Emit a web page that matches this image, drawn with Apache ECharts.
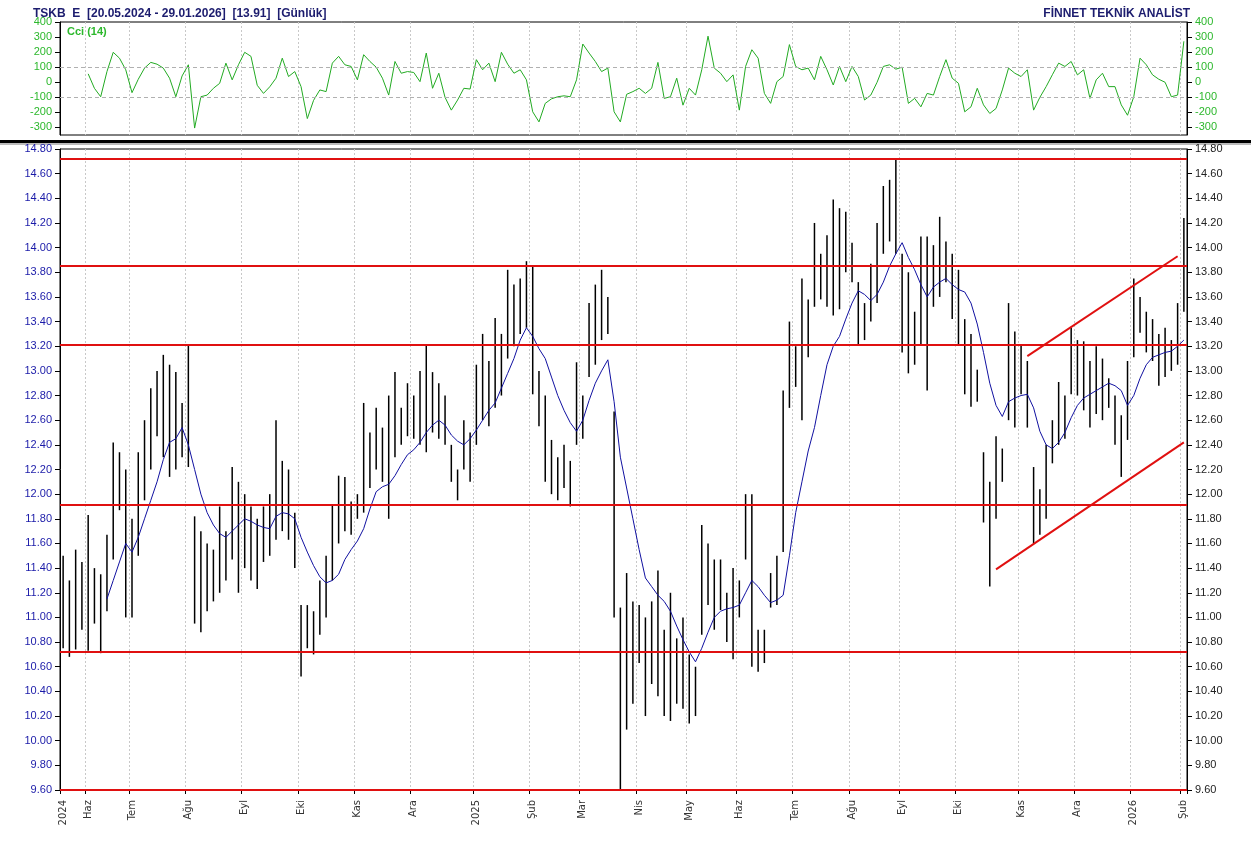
<!DOCTYPE html>
<html><head><meta charset="utf-8">
<script src="https://cdn.jsdelivr.net/npm/echarts@6/dist/echarts.min.js"></script>
<style>html,body{margin:0;padding:0;background:#fff}#c{width:1251px;height:841px}</style>
</head><body><div id="c"></div>
<script>
const highs = [11.50,11.30,11.55,11.45,11.83,11.40,11.35,11.67,12.42,12.34,
12.20,11.80,12.34,12.60,12.86,13.00,13.13,13.05,12.99,12.74,
13.21,11.82,11.70,11.60,11.55,11.90,11.70,12.22,12.10,12.00,
11.90,11.80,11.90,12.00,12.60,12.27,12.20,11.85,11.10,11.10,
11.05,11.30,11.50,11.92,12.15,12.14,11.94,12.00,12.74,12.50,
12.70,12.54,12.80,12.99,12.70,12.90,12.80,13.00,13.21,12.99,
12.90,12.80,12.40,12.20,12.60,12.50,13.05,13.30,13.08,13.43,
13.30,13.82,13.70,13.75,13.89,13.85,13.00,12.80,12.44,12.30,
12.40,12.27,13.07,12.80,13.55,13.70,13.82,13.60,12.67,11.08,
11.36,11.13,11.10,11.00,11.13,11.38,10.90,11.20,10.83,11.00,
10.70,10.60,11.75,11.60,11.47,11.47,11.20,11.40,11.30,12.00,
12.00,10.90,10.90,11.36,11.50,12.84,13.40,13.20,13.75,13.58,
14.20,13.95,14.10,14.39,14.32,14.29,14.04,13.72,13.55,13.87,
14.20,14.50,14.55,14.71,13.95,13.80,13.48,14.09,14.09,14.02,
14.25,14.05,13.95,13.82,13.42,13.30,13.01,12.34,12.10,12.47,
12.37,13.55,13.32,13.21,13.08,12.22,12.04,12.40,12.60,12.91,
12.80,13.35,13.25,13.24,13.08,13.20,13.10,12.94,12.80,12.64,
13.08,13.75,13.60,13.48,13.42,13.30,13.35,13.25,13.55,14.24];
const lows = [10.75,10.68,10.74,10.90,10.73,10.95,10.71,11.05,11.47,11.87,
11.00,11.00,11.50,11.95,12.20,12.47,12.30,12.14,12.20,12.30,
12.22,10.95,10.88,11.05,11.13,11.20,11.30,11.47,11.20,11.40,
11.30,11.23,11.45,11.50,11.63,11.70,11.63,11.40,10.52,10.75,
10.70,10.86,11.00,11.30,11.60,11.70,11.67,11.80,11.85,12.05,
12.20,12.10,11.80,12.30,12.40,12.47,12.45,12.40,12.34,12.50,
12.45,12.40,12.10,11.95,12.20,12.10,12.40,12.60,12.55,12.70,
12.80,13.10,13.20,13.30,13.35,12.81,12.55,12.10,12.00,11.95,
12.05,11.90,12.40,12.45,12.95,13.05,13.25,13.30,11.00,9.60,
10.09,10.30,10.63,10.20,10.46,10.36,10.20,10.16,10.30,10.26,
10.14,10.20,10.86,11.10,10.90,11.06,10.80,10.66,11.00,11.47,
10.60,10.56,10.63,11.08,11.10,11.53,12.70,12.87,12.60,13.11,
13.52,13.58,13.52,13.45,13.50,13.80,13.72,13.21,13.25,13.40,
13.55,13.95,14.05,13.95,13.15,12.98,13.05,13.21,12.84,13.52,
13.60,13.72,13.42,13.21,12.81,12.71,12.75,11.77,11.25,11.80,
12.10,12.60,12.54,12.81,12.54,11.60,11.67,11.80,12.25,12.40,
12.45,12.81,12.80,12.68,12.54,12.65,12.60,12.70,12.40,12.14,
12.44,13.11,13.31,13.15,13.08,12.88,12.95,13.00,13.05,13.48];
const ma = [null,null,null,null,null,null,null,11.15,11.3,11.45,
11.6,11.53,11.65,11.8,11.95,12.1,12.28,12.42,12.45,12.54,
12.4,12.2,12.0,11.85,11.75,11.68,11.65,11.7,11.75,11.8,
11.78,11.75,11.73,11.72,11.82,11.85,11.84,11.8,11.65,11.53,
11.42,11.33,11.28,11.3,11.35,11.47,11.55,11.62,11.72,11.88,
12.02,12.06,12.08,12.15,12.24,12.32,12.36,12.42,12.5,12.56,
12.6,12.56,12.48,12.43,12.4,12.45,12.52,12.6,12.68,12.74,
12.86,12.98,13.1,13.25,13.35,13.28,13.18,13.1,12.95,12.8,
12.68,12.58,12.51,12.6,12.76,12.9,13.0,13.09,12.75,12.3,
12.05,11.8,11.55,11.32,11.25,11.18,11.13,11.05,10.93,10.82,
10.72,10.64,10.75,10.88,11.0,11.05,11.07,11.08,11.1,11.2,
11.3,11.25,11.18,11.12,11.14,11.18,11.5,11.85,12.1,12.35,
12.54,12.8,13.05,13.2,13.28,13.42,13.55,13.65,13.62,13.57,
13.62,13.72,13.85,13.95,14.04,13.92,13.82,13.7,13.6,13.68,
13.72,13.75,13.7,13.66,13.64,13.55,13.38,13.15,12.9,12.72,
12.63,12.75,12.78,12.8,12.81,12.7,12.51,12.4,12.37,12.42,
12.5,12.62,12.72,12.78,12.81,12.84,12.87,12.9,12.88,12.84,
12.72,12.8,12.94,13.05,13.11,13.13,13.15,13.16,13.2,13.25];
const cci = [null,null,null,null,56,-40,-96,71,199,160,
83,-69,20,94,132,120,94,27,-96,42,
116,-304,-96,-85,-40,-7,127,16,116,199,
172,-20,-74,-30,27,160,38,71,-29,-241,
-120,-51,-62,127,172,116,105,16,183,138,
100,27,-85,138,60,71,65,4,194,-40,
60,-100,-185,-118,-40,-45,150,83,127,4,
199,120,60,83,16,-196,-263,-140,-110,-96,
-90,-96,16,254,194,138,71,94,-196,-263,
-80,-62,-40,-74,-40,132,-107,-96,27,-152,
-40,-85,83,306,94,60,4,49,-185,105,
216,160,-74,-140,4,38,250,105,83,94,
16,172,83,-18,105,4,105,38,-118,-85,
0,105,116,87,100,-140,-107,-163,-74,-85,
38,150,27,-7,-196,-163,-40,-150,-207,-174,
-51,94,60,38,83,-185,-100,-29,50,127,
105,138,49,83,-107,16,60,-29,-29,-150,
-219,-96,160,116,49,20,0,-96,-85,272];
const monthLabels = {0:'2024',4:'Haz',11:'Tem',20:'Ağu',29:'Eyl',38:'Eki',47:'Kas',56:'Ara',66:'2025',75:'Şub',83:'Mar',92:'Nis',100:'May',108:'Haz',117:'Tem',126:'Ağu',134:'Eyl',143:'Eki',153:'Kas',162:'Ara',171:'2026',179:'Şub'};
const levels = [14.72,13.85,13.21,11.91,10.72,9.60];
const channelUpper = [[154,13.12],[178,13.93]];
const channelLower = [[149,11.39],[179,12.42]];
const cciTicks = [400,300,200,100,0,-100,-200,-300];

const cats = highs.map((_, i) => String(i));
const isMonth = (i) => monthLabels[i] !== undefined;
const chart = echarts.init(document.getElementById('c'));
const blue = '#1a1aa8', green = '#2db82d';
const gridLine = {show:true, interval:(i)=>isMonth(i), lineStyle:{color:'#c8c8c8', type:[2,2], width:1}};
chart.setOption({
  animation:false,
  title:[
    {text:'TSKB  E  [20.05.2024 - 29.01.2026]  [13.91]  [Günlük]', left:28, top:3, textStyle:{fontSize:12, fontWeight:'bold', color:'#1c1c6e', fontFamily:'Liberation Sans'}},
    {text:'FİNNET TEKNİK ANALİST', right:56, top:3, textStyle:{fontSize:12, fontWeight:'bold', color:'#1c1c6e', fontFamily:'Liberation Sans'}},
    {text:'Cci (14)', left:62, top:21, textStyle:{fontSize:11, fontWeight:'bold', color:green, fontFamily:'Liberation Sans'}}
  ],
  grid:[
    {left:60, right:64, top:22, height:113, show:true, borderColor:'#000', borderWidth:1},
    {left:60, right:64, top:149, height:641, show:true, borderColor:'#000', borderWidth:1}
  ],
  xAxis:[
    {gridIndex:0, type:'category', data:cats, boundaryGap:true, axisLine:{show:false}, axisTick:{show:false}, axisLabel:{show:false}, splitLine:gridLine},
    {gridIndex:1, type:'category', data:cats, boundaryGap:true, axisLine:{lineStyle:{color:'#000'}}, axisTick:{show:true, interval:(i)=>isMonth(i), length:4, lineStyle:{color:'#000'}},
     axisLabel:{interval:(i)=>isMonth(i), formatter:(v)=>monthLabels[+v]||'', rotate:90, fontSize:10, color:'#333', margin:10, fontFamily:'DejaVu Sans'}, splitLine:gridLine}
  ],
  yAxis:[
    {gridIndex:0, type:'value', min:-350, max:400, position:'left', axisLine:{show:true, lineStyle:{color:'#000'}}, axisTick:{show:true, customValues:cciTicks}, axisLabel:{customValues:cciTicks, color:green, fontSize:11, fontFamily:'Liberation Sans'}, splitLine:{show:false}},
    {gridIndex:0, type:'value', min:-350, max:400, position:'right', axisLine:{show:true, lineStyle:{color:'#000'}}, axisTick:{show:true, customValues:cciTicks}, axisLabel:{customValues:cciTicks, color:green, fontSize:11, fontFamily:'Liberation Sans'}, splitLine:{show:false}},
    {gridIndex:1, type:'value', min:9.6, max:14.8, interval:0.2, position:'left', axisLine:{show:true, lineStyle:{color:'#000'}}, axisTick:{show:true}, axisLabel:{formatter:(v)=>v.toFixed(2), color:blue, fontSize:11, fontFamily:'Liberation Sans'}, splitLine:{show:false}},
    {gridIndex:1, type:'value', min:9.6, max:14.8, interval:0.2, position:'right', axisLine:{show:true, lineStyle:{color:'#000'}}, axisTick:{show:true}, axisLabel:{formatter:(v)=>v.toFixed(2), color:'#222', fontSize:11, fontFamily:'Liberation Sans'}, splitLine:{show:false}}
  ],
  graphic:[
    {type:'rect', shape:{x:0, y:140, width:1251, height:3}, style:{fill:'#000'}},
    {type:'rect', shape:{x:0, y:143, width:1251, height:2}, style:{fill:'#bbb'}}
  ],
  series:[
    {type:'line', xAxisIndex:0, yAxisIndex:0, data:cci, showSymbol:false, lineStyle:{color:'#22aa22', width:1}, connectNulls:false,
     markLine:{silent:true, symbol:'none', label:{show:false}, lineStyle:{color:'#b0b0b0', type:[4,3], width:1}, data:[{yAxis:100},{yAxis:-100}]}},
    {type:'custom', xAxisIndex:1, yAxisIndex:2, data:highs.map((h,i)=>[i,h,lows[i]]),
     renderItem:(params, api)=>{
       const p1 = api.coord([api.value(0), api.value(1)]);
       const p2 = api.coord([api.value(0), api.value(2)]);
       return {type:'line', shape:{x1:p1[0], y1:p1[1], x2:p2[0], y2:p2[1]}, style:{stroke:'#000', lineWidth:1.5}};
     }, encode:{x:0, y:[1,2]}},
    {type:'line', xAxisIndex:1, yAxisIndex:2, data:ma, showSymbol:false, lineStyle:{color:'#1010a0', width:1},
     markLine:{silent:true, symbol:'none', label:{show:false}, lineStyle:{color:'#e01010', type:'solid', width:2},
       data: levels.map(v=>({yAxis:v})).concat([
         [{coord:channelUpper[0]},{coord:channelUpper[1]}],
         [{coord:channelLower[0]},{coord:channelLower[1]}]
       ])}}
  ]
});
</script></body></html>
